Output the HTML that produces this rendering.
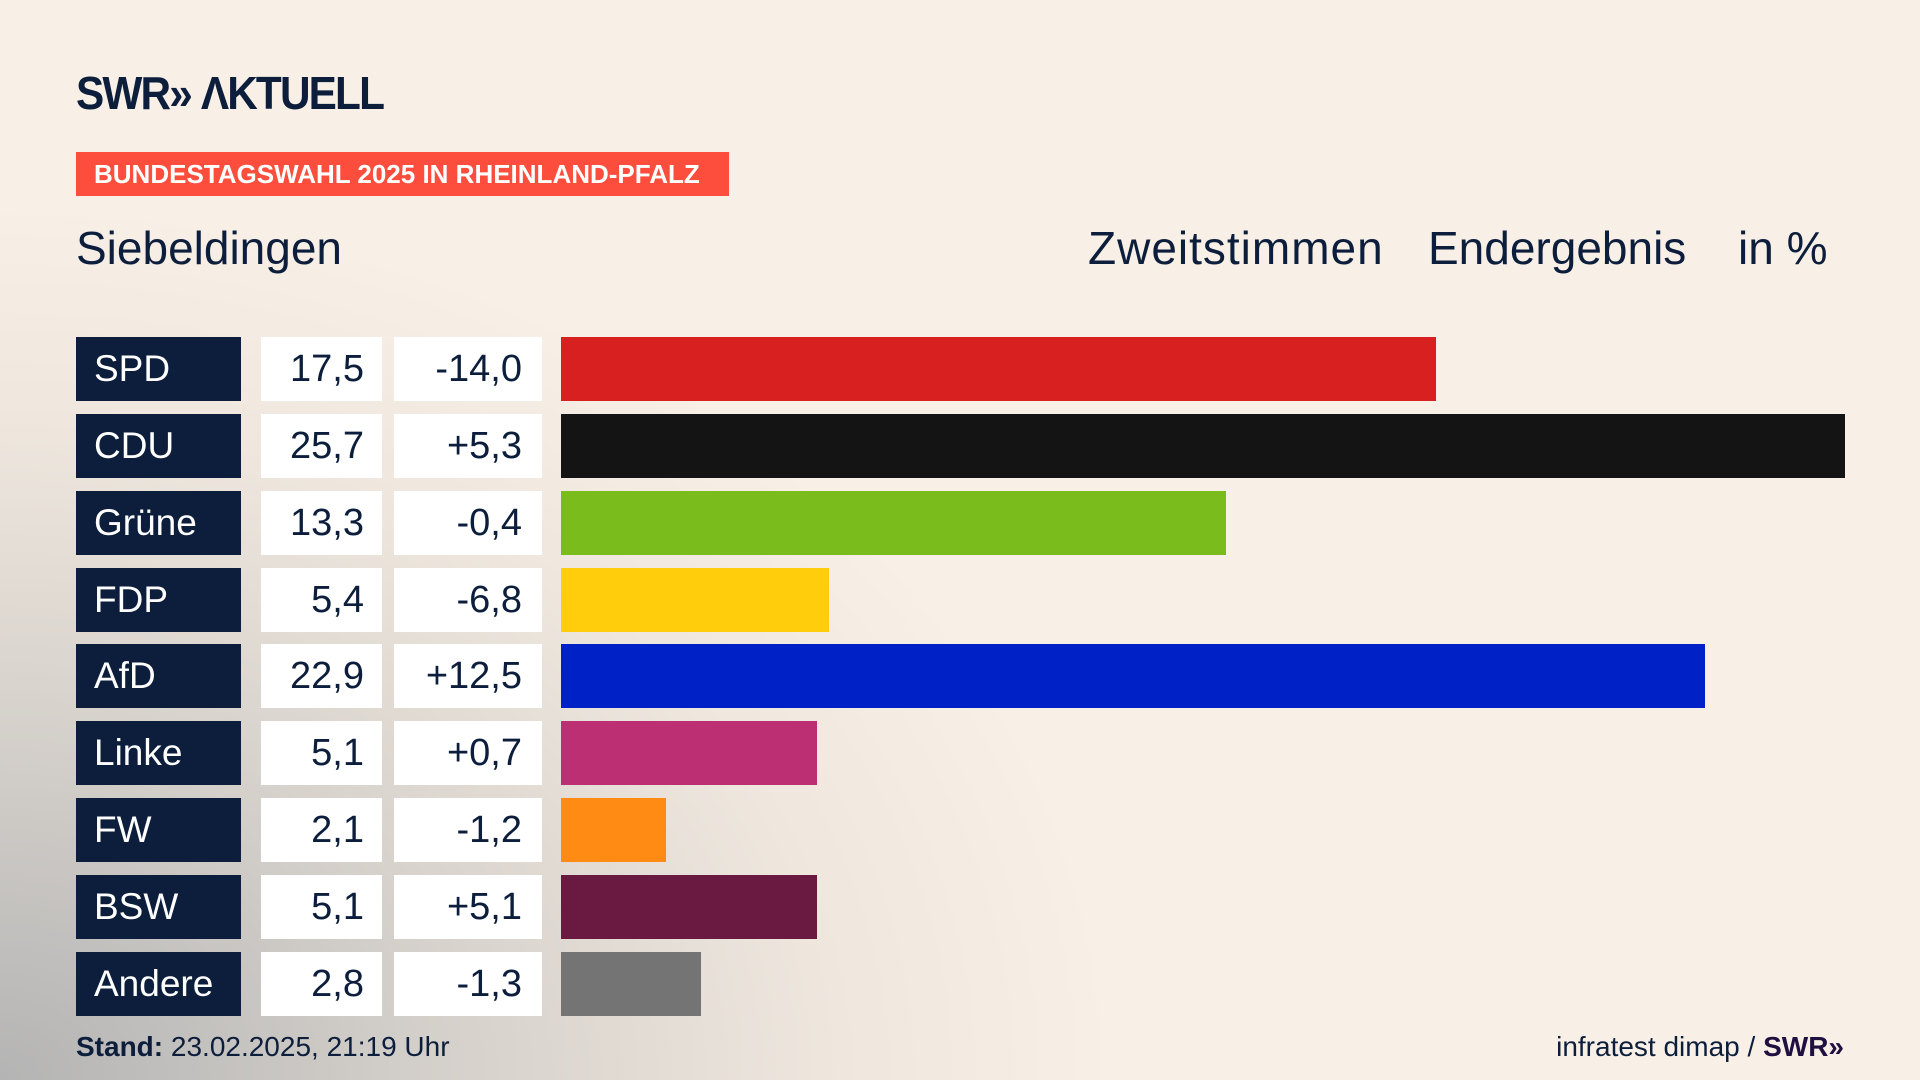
<!DOCTYPE html>
<html><head><meta charset="utf-8"><style>
body{margin:0;width:1920px;height:1080px;overflow:hidden;font-family:"Liberation Sans Narrow","Liberation Sans",sans-serif;color:#0c1e3c;
background:radial-gradient(ellipse 1400px 1100px at 0px 1080px,#b4b4b4 0%,#d8d3cd 35%,#efe7de 60%,#f8f0e6 80%),#f8f0e6;position:relative}
.a{position:absolute}
.logo{left:76px;top:70px;font-size:46px;font-weight:bold;letter-spacing:-2px;line-height:46px;transform:scaleX(0.92);transform-origin:left}
.ban{left:76px;top:152px;width:653px;height:44px;background:#fd4e3d;color:#fff;font-weight:bold;font-size:26px;line-height:44px;text-indent:18px}
.h{top:222px;font-size:46px;line-height:52px}
.lab{left:76px;width:165px;height:64px;background:#0c1e3c;color:#fff;font-size:37px;line-height:64px;text-indent:18px}
.v{left:261px;width:121px;height:64px;background:#fff;font-size:38px;line-height:64px;text-align:right;box-sizing:border-box;padding-right:18px}
.d{left:394px;width:148px;height:64px;background:#fff;font-size:38px;line-height:64px;text-align:right;box-sizing:border-box;padding-right:20px}
.b{left:561px;height:64px}
.f{top:1030px;font-size:28px;line-height:34px}
</style></head><body>
<div class="a logo">SWR»&nbsp;ΛKTUELL</div>
<div class="a ban">BUNDESTAGSWAHL 2025 IN RHEINLAND-PFALZ</div>
<div class="a h" style="left:76px">Siebeldingen</div>
<div class="a h" style="left:1088px;letter-spacing:1px">Zweitstimmen</div>
<div class="a h" style="left:1428px">Endergebnis</div>
<div class="a h" style="left:1738px">in %</div>

<div class="a lab" style="top:337px">SPD</div><div class="a v" style="top:337px">17,5</div><div class="a d" style="top:337px">-14,0</div><div class="a b" style="top:337px;width:875px;background:#d82020"></div>
<div class="a lab" style="top:414px">CDU</div><div class="a v" style="top:414px">25,7</div><div class="a d" style="top:414px">+5,3</div><div class="a b" style="top:414px;width:1284px;background:#141414"></div>
<div class="a lab" style="top:491px">Grüne</div><div class="a v" style="top:491px">13,3</div><div class="a d" style="top:491px">-0,4</div><div class="a b" style="top:491px;width:665px;background:#79bc1c"></div>
<div class="a lab" style="top:568px">FDP</div><div class="a v" style="top:568px">5,4</div><div class="a d" style="top:568px">-6,8</div><div class="a b" style="top:568px;width:268px;background:#ffcd0c"></div>
<div class="a lab" style="top:644px">AfD</div><div class="a v" style="top:644px">22,9</div><div class="a d" style="top:644px">+12,5</div><div class="a b" style="top:644px;width:1144px;background:#0021c6"></div>
<div class="a lab" style="top:721px">Linke</div><div class="a v" style="top:721px">5,1</div><div class="a d" style="top:721px">+0,7</div><div class="a b" style="top:721px;width:256px;background:#bc3073"></div>
<div class="a lab" style="top:798px">FW</div><div class="a v" style="top:798px">2,1</div><div class="a d" style="top:798px">-1,2</div><div class="a b" style="top:798px;width:105px;background:#ff8b14"></div>
<div class="a lab" style="top:875px">BSW</div><div class="a v" style="top:875px">5,1</div><div class="a d" style="top:875px">+5,1</div><div class="a b" style="top:875px;width:256px;background:#6a1940"></div>
<div class="a lab" style="top:952px">Andere</div><div class="a v" style="top:952px">2,8</div><div class="a d" style="top:952px">-1,3</div><div class="a b" style="top:952px;width:140px;background:#747474"></div>

<div class="a f" style="left:76px"><b>Stand:</b> 23.02.2025, 21:19 Uhr</div>
<div class="a f" style="right:76px">infratest dimap / <b style="color:#1e1040">SWR»</b></div>
</body></html>
